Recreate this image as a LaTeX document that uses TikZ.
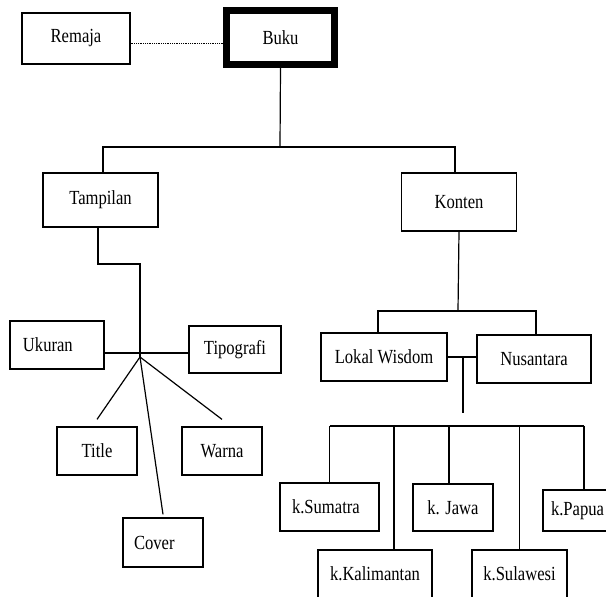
\documentclass[tikz,border=0pt]{standalone}
\usepackage{fontspec}
\setmainfont{Liberation Serif}[FakeStretch=0.83]
\begin{document}
\begin{tikzpicture}[x=1pt,y=1pt,line width=1.2pt,
    kotak/.style={draw,inner sep=0pt,minimum height=48pt,font=\fontsize{20}{22}\selectfont},
    rata/.style={align=left,text width=#1}]
  \useasboundingbox (0,0) rectangle (606,597);
  % puncak
  \node [kotak,minimum width=108pt,minimum height=51pt] (remaja) at (76,558.5) {Remaja};
  \node [kotak,line width=6pt,minimum width=109pt,minimum height=55pt] (buku) at (280.5,559.5) {Buku};
  \draw [line width=1pt] ([xshift=6.5pt,yshift=-6.5pt]buku.north west) rectangle ([xshift=-6.5pt,yshift=6.5pt]buku.south east);
  \node [kotak,minimum width=115pt,minimum height=54pt] (tampilan) at (100.5,397) {Tampilan};
  \node [kotak,minimum width=115pt,minimum height=58pt] (konten) at (459,395) {Konten};
  % cabang tampilan
  \node [kotak,rata=68pt,minimum width=94pt] (ukuran) at (57,252) {Ukuran};
  \node [kotak,minimum width=92pt,minimum height=47pt] (tipografi) at (235,247.5) {Tipografi};
  \node [kotak,minimum width=80pt] (title) at (97,146) {Title};
  \node [kotak,minimum width=80pt] (warna) at (222,146) {Warna};
  \node [kotak,rata=58pt,minimum width=80pt,minimum height=49pt] (cover) at (163,54.5) {Cover};
  % cabang konten
  \node [kotak,minimum width=126pt] (lokal) at (384,240) {Lokal Wisdom};
  \node [kotak,minimum width=114pt] (nusantara) at (534,238) {Nusantara};
  \node [kotak,rata=75pt,minimum width=99pt] (sumatra) at (329.5,90) {k.Sumatra};
  \node [kotak,minimum width=80pt,minimum height=47pt] (jawa) at (453,89.5) {k. Jawa};
  \node [kotak,rata=66pt,minimum width=82pt,minimum height=41pt] (papua) at (584,86.5) {k.Papua};
  \node [kotak,minimum width=114pt] (kalimantan) at (375,23) {k.Kalimantan};
  \node [kotak,minimum width=95pt] (sulawesi) at (519.5,23) {k.Sulawesi};

  \coordinate (atas) at (280,450);
  \coordinate (belok) at (140,333);
  \coordinate (simpul) at (140,240);
  \coordinate (garis) at (140,244);
  \coordinate (cabang) at (458,286);
  \coordinate (tengah) at (463,240);
  \coordinate (ujung) at (463,184);
  \coordinate (kiri) at (330,171);
  \coordinate (kanan) at (584,171);

  \draw [line width=1.6pt,dash pattern=on 1pt off 0.8pt] ([yshift=-5pt]remaja.east) -- ([yshift=-6pt]buku.west);
  \draw (buku.south) -- (atas);
  \draw ([xshift=2.5pt]tampilan.north) |- (atas) -| ([xshift=-4pt]konten.north);
  % tampilan
  \draw ([xshift=-2.5pt]tampilan.south) |- (belok) -- (simpul);
  \draw (ukuran.east |- garis) -- (tipografi.west |- garis);
  \foreach \anak/\jarak in {title/7pt,warna/7pt,cover/3pt}
    \draw (simpul) -- ([yshift=\jarak]\anak.north);
  % konten
  \draw (konten.south) -- (cabang);
  \draw ([xshift=-6pt]lokal.north) |- (cabang) -| ([xshift=2pt]nusantara.north);
  \draw (lokal.east) -- (lokal.east -| nusantara.west);
  \draw (tengah) -- (ujung);
  \draw (kiri) -- (kanan);
  \foreach \pulau/\geser in {sumatra/0pt,kalimantan/19pt,jawa/-4pt,sulawesi/0pt,papua/0pt}
    \draw ([xshift=\geser]\pulau.north |- kiri) -- ([xshift=\geser]\pulau.north);
\end{tikzpicture}
\end{document}
